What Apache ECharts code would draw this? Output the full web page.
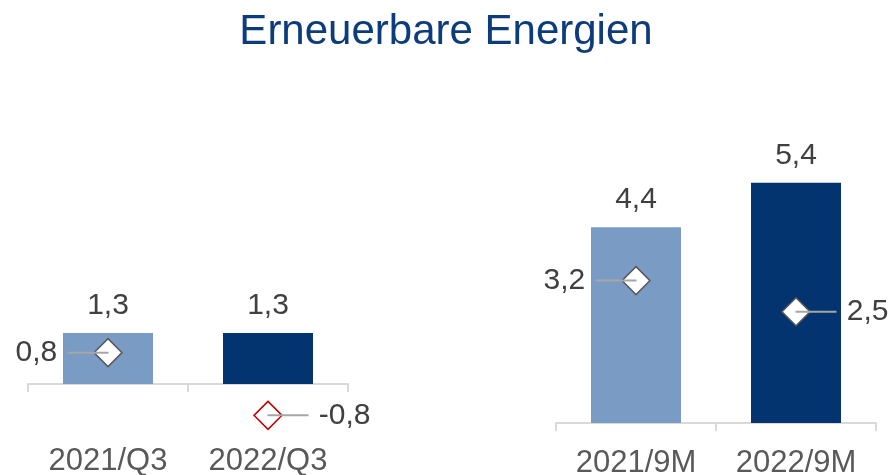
<!DOCTYPE html>
<html>
<head>
<meta charset="utf-8">
<script src="https://cdn.jsdelivr.net/npm/echarts@6/dist/echarts.min.js"></script>
<style>
  html, body { margin: 0; padding: 0; background: #fff; }
  #main { width: 892px; height: 475px; }
</style>
</head>
<body>
<div id="main"></div>
<script>
// chart data
const catsQ = ['2021/Q3', '2022/Q3'];
const catsM = ['2021/9M', '2022/9M'];
const barsQ = [1.3, 1.3];
const barsM = [4.4, 5.4];
const marksQ = [0.8, -0.8];
const marksM = [3.2, 2.5];

const FONT = 'Liberation Sans, Arial, sans-serif';
const barColors = ['#7a9bc4', '#03346f'];
const fmt = v => v.toFixed(1).replace('.', ',');

function markData(vals) {
  return vals.map((v, i) => ({
    value: v,
    itemStyle: { borderColor: v < 0 ? '#c00000' : '#595959' },
    label: { position: i === 0 ? 'left' : 'right' }
  }));
}
function leaderData(vals) {
  return vals.map((v, i) => ({ value: v, symbolOffset: [i === 0 ? -20 : 20, 0] }));
}

function xAxis(cats, gi, margin) {
  return {
    type: 'category', gridIndex: gi, data: cats,
    axisLine: { onZero: false, lineStyle: { color: '#d9d9d9', width: 2 } },
    axisTick: { show: true, length: 8, lineStyle: { color: '#d9d9d9', width: 2 } },
    axisLabel: { color: '#595959', fontSize: 31, fontFamily: FONT, margin: margin }
  };
}

function barSeries(data, gi) {
  return {
    type: 'bar', xAxisIndex: gi, yAxisIndex: gi, data: data, barWidth: 90,
    itemStyle: { color: p => barColors[p.dataIndex] },
    label: { show: true, position: 'top', distance: 12, color: '#404040',
      fontSize: 30, fontFamily: FONT, formatter: p => fmt(p.value) }
  };
}
function markSeries(vals, gi) {
  return {
    type: 'scatter', xAxisIndex: gi, yAxisIndex: gi, data: markData(vals),
    symbol: 'diamond', symbolSize: 28, z: 3, clip: false,
    itemStyle: { color: '#fff', borderWidth: 1.5, opacity: 1 },
    label: { show: true, distance: 36, color: '#404040', fontSize: 30,
      fontFamily: FONT, formatter: p => fmt(p.value) }
  };
}
function leaderSeries(vals, gi) {
  return {
    type: 'scatter', xAxisIndex: gi, yAxisIndex: gi, data: leaderData(vals),
    symbol: 'rect', symbolSize: [41, 2], z: 4, silent: true, clip: false,
    itemStyle: { color: '#a6a6a6', opacity: 1 }
  };
}

const chart = echarts.init(document.getElementById('main'));
chart.setOption({
  animation: false,
  title: {
    text: 'Erneuerbare Energien', left: 'center', top: 6,
    textStyle: { color: '#0c3c7c', fontSize: 42, fontWeight: 'normal', fontFamily: FONT }
  },
  grid: [
    { left: 28, width: 320, top: 266.4, height: 117.6, outerBoundsMode: 'none' },
    { left: 556, width: 320, top: 156, height: 267, outerBoundsMode: 'none' }
  ],
  xAxis: [xAxis(catsQ, 0, 62), xAxis(catsM, 1, 25)],
  yAxis: [
    { type: 'value', gridIndex: 0, min: 0, max: 3, show: false, splitLine: { show: false } },
    { type: 'value', gridIndex: 1, min: 0, max: 6, show: false, splitLine: { show: false } }
  ],
  series: [
    barSeries(barsQ, 0), barSeries(barsM, 1),
    markSeries(marksQ, 0), markSeries(marksM, 1),
    leaderSeries(marksQ, 0), leaderSeries(marksM, 1)
  ]
});
</script>
</body>
</html>
